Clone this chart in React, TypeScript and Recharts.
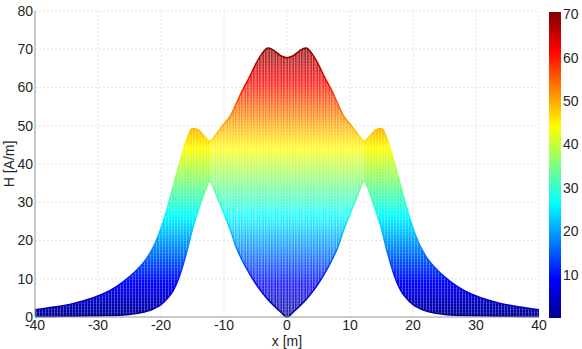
import React from 'react';
import { ComposedChart, Area, Bar, XAxis, YAxis, CartesianGrid } from 'recharts';

// envelope of the surface seen from the side: x [m] vs H [A/m]
const xs = [
  -40, -37, -34, -31, -28, -26, -24, -22, -21, -20, -19, -18, -17, -16, -15, -14, -13, -12.3,
  -11, -10, -9, -8, -7, -6, -5, -4, -3, -2, -1, 0,
  1, 2, 3, 4, 5, 6, 7, 8, 9, 10, 11,
  12.3, 13, 14, 15, 16, 17, 18, 19, 20, 21, 22, 24, 26, 28, 31, 34, 37, 40,
];
const upperH = [
  1.9, 2.6, 3.5, 4.9, 7.0, 9.2, 12.0, 16.0, 19.0, 23.2, 28.5, 34.5, 40.5, 46.0, 49.3, 48.8, 47.0, 46.0,
  48.3, 50.5, 52.5, 56.0, 59.5, 62.6, 66.0, 68.8, 70.3, 69.6, 68.3, 67.8,
  68.3, 69.6, 70.3, 68.8, 66.0, 62.6, 59.5, 56.0, 52.5, 50.5, 48.3,
  46.0, 47.0, 48.8, 49.3, 46.0, 40.5, 34.5, 28.5, 23.2, 19.0, 16.0, 12.0, 9.2, 7.0, 4.9, 3.5, 2.6, 1.9,
];
const lowerH = [
  0.1, 0.15, 0.2, 0.3, 0.4, 0.5, 0.9, 1.6, 2.3, 3.2, 4.8, 7.1, 11.0, 16.5, 23.0, 28.3, 33.0, 35.5,
  31.0, 27.0, 22.8, 18.0, 14.5, 11.5, 8.8, 6.5, 4.5, 2.8, 1.3, 0,
  1.3, 2.8, 4.5, 6.5, 8.8, 11.5, 14.5, 18.0, 22.8, 27.0, 31.0,
  35.5, 33.0, 28.3, 23.0, 16.5, 11.0, 7.1, 4.8, 3.2, 2.3, 1.6, 0.9, 0.5, 0.4, 0.3, 0.2, 0.15, 0.1,
];

const xTicks = [-40, -30, -20, -10, 0, 10, 20, 30, 40];
const yTicks = [0, 10, 20, 30, 40, 50, 60, 70, 80];
const colorbarMax = 70.5;
const colorbarTicks = [10, 20, 30, 40, 50, 60, 70];
const innerLobe = 12.3; // the lighter central part of the surface

const data = xs.map((x, i) => ({
  x,
  band: [lowerH[i], upperH[i]],
  inner: Math.abs(x) <= innerLobe ? [lowerH[i], upperH[i]] : null,
}));
const colorbarData = [{ name: 'H', value: colorbarMax }];

const font = { fontFamily: 'Liberation Sans, Arial, sans-serif', fontSize: 14, fill: '#262626' };

// plot box in pixels (from the margins below)
const plotTop = 11;
const plotBottom = 317;
const yMax = 80;
const yPix = (v: number) => plotBottom - (v / yMax) * (plotBottom - plotTop);

const jetStops = [
  { offset: 0, color: '#800000' },
  { offset: 0.125, color: '#ff0000' },
  { offset: 0.375, color: '#ffff00' },
  { offset: 0.625, color: '#00ffff' },
  { offset: 0.875, color: '#0000ff' },
  { offset: 1, color: '#00008f' },
];

export default function App() {
  return (
    <div style={{ position: 'absolute', left: 0, top: 0, width: 582, height: 349, background: '#fff' }}>
      <div style={{ position: 'absolute', left: 0, top: 0 }}>
        <ComposedChart width={582} height={349} data={data} margin={{ top: 11, right: 43, left: 0, bottom: 0 }}>
          <defs>
            <linearGradient id="jetUser" gradientUnits="userSpaceOnUse" x1="0" y1={yPix(colorbarMax)} x2="0" y2={yPix(0)}>
              {jetStops.map((s) => (
                <stop key={s.offset} offset={s.offset} stopColor={s.color} />
              ))}
            </linearGradient>
            <pattern id="mesh" width="3" height="3" patternUnits="userSpaceOnUse">
              <rect x="0" y="0" width="1" height="3" fill="#ffffff" fillOpacity={0.5} />
              <rect x="1" y="0" width="2" height="0.6" fill="#ffffff" fillOpacity={0.3} />
            </pattern>
            <pattern id="meshInner" width="2" height="2" patternUnits="userSpaceOnUse">
              <rect x="0" y="0" width="2" height="2" fill="#ffffff" fillOpacity={0.22} />
              <rect x="0" y="0" width="1" height="2" fill="#ffffff" fillOpacity={0.3} />
            </pattern>
          </defs>
          <CartesianGrid stroke="#e4e4e4" strokeDasharray="2 2" />
          <XAxis
            dataKey="x"
            type="number"
            domain={[-40, 40]}
            ticks={xTicks}
            height={32}
            tickLine={false}
            tickSize={0}
            tickMargin={3}
            axisLine={{ stroke: '#9a9a9a' }}
            tick={font}
            label={{ value: 'x [m]', position: 'insideBottom', offset: 3, style: font }}
          />
          <YAxis
            type="number"
            domain={[0, 80]}
            ticks={yTicks}
            width={35}
            tickLine={false}
            tickSize={0}
            tickMargin={2}
            axisLine={{ stroke: '#9a9a9a' }}
            tick={font}
            label={{ value: 'H [A/m]', angle: -90, position: 'insideLeft', offset: 9, style: { ...font, textAnchor: 'middle' } }}
          />
          <Area type="monotone" dataKey="band" stroke="none" fill="url(#jetUser)" fillOpacity={1} isAnimationActive={false} />
          <Area type="monotone" dataKey="band" stroke="none" fill="url(#mesh)" isAnimationActive={false} />
          <Area type="monotone" dataKey="inner" stroke="none" fill="url(#meshInner)" isAnimationActive={false} />
          <Area type="monotone" dataKey="band" stroke="url(#jetUser)" strokeWidth={1.5} fill="none" isAnimationActive={false} />
        </ComposedChart>
      </div>
      <div style={{ position: 'absolute', left: 540, top: 0 }}>
        <ComposedChart width={42} height={349} data={colorbarData} margin={{ top: 12, right: 0, left: 9, bottom: 31 }} barCategoryGap={0}>
          <defs>
            <linearGradient id="jetBar" x1="0" y1="0" x2="0" y2="1">
              {jetStops.map((s) => (
                <stop key={s.offset} offset={s.offset} stopColor={s.color} />
              ))}
            </linearGradient>
          </defs>
          <XAxis dataKey="name" type="category" hide />
          <YAxis
            orientation="right"
            type="number"
            domain={[0, colorbarMax]}
            ticks={colorbarTicks}
            width={21}
            tickLine={false}
            tickSize={0}
            tickMargin={2}
            axisLine={false}
            tick={font}
          />
          <Bar dataKey="value" fill="url(#jetBar)" isAnimationActive={false} />
        </ComposedChart>
      </div>
    </div>
  );
}
